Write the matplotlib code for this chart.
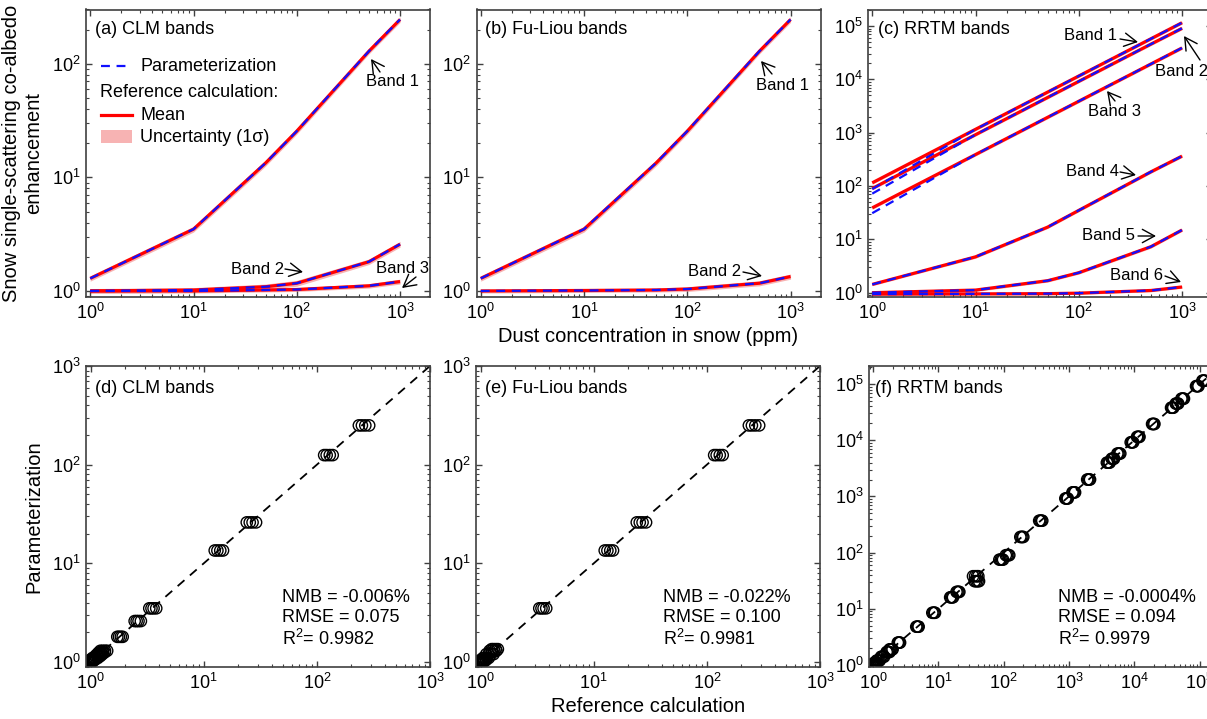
import numpy as np
import matplotlib
matplotlib.use("Agg")
import matplotlib.pyplot as plt
from matplotlib.ticker import LogLocator, NullFormatter

plt.rcParams['font.family'] = ['Liberation Sans', 'DejaVu Sans']
plt.rcParams['mathtext.fontset'] = 'custom'
plt.rcParams['mathtext.rm'] = 'Liberation Sans'
plt.rcParams['mathtext.it'] = 'Liberation Sans:italic'
plt.rcParams['mathtext.bf'] = 'Liberation Sans:bold'

# ---------------- data: top row (enhancement vs dust concentration) ----------------
conc = [1, 10, 50, 100, 500, 1000]

clm_ref = [[1.29, 3.5, 13.4, 25.5, 129, 245],
           [1.0, 1.02, 1.09, 1.17, 1.81, 2.58],
           [1.0, 1.0, 1.02, 1.03, 1.11, 1.21]]
clm_par = [[1.29, 3.5, 13.4, 25.5, 129, 245],
           [1.0, 1.02, 1.09, 1.17, 1.81, 2.58],
           [1.0, 1.0, 1.02, 1.03, 1.11, 1.21]]
clm_sig = [[0.07, 0.2, 0.8, 1.5, 7.0, 14.0],
           [0.05, 0.05, 0.06, 0.07, 0.1, 0.15],
           [0.04, 0.04, 0.04, 0.04, 0.05, 0.06]]

fl_ref = [[1.29, 3.5, 13.4, 25.5, 129, 245],
          [1.0, 1.01, 1.02, 1.04, 1.17, 1.34]]
fl_par = [[1.29, 3.5, 13.4, 25.5, 129, 245],
          [1.0, 1.01, 1.02, 1.04, 1.17, 1.34]]
fl_sig = [[0.07, 0.2, 0.8, 1.5, 7.0, 14.0],
          [0.04, 0.04, 0.04, 0.05, 0.06, 0.07]]

rrtm_ref = [[115, 1160, 5800, 11600, 58000, 116000],
            [90, 920, 4600, 9200, 46000, 91000],
            [39, 390, 1950, 3900, 19500, 39000],
            [1.43, 4.7, 17, 35, 185, 365],
            [1.0, 1.12, 1.68, 2.37, 7.3, 15.0],
            [0.94, 0.95, 0.96, 0.98, 1.1, 1.28]]
rrtm_par = [[88, 1160, 5800, 11600, 58000, 116000],
            [72, 920, 4600, 9200, 46000, 91000],
            [31, 390, 1950, 3900, 19500, 39000],
            [1.43, 4.7, 17, 35, 185, 365],
            [1.0, 1.12, 1.68, 2.37, 7.3, 15.0],
            [0.94, 0.95, 0.96, 0.98, 1.1, 1.28]]
rrtm_sig = [[7, 70, 350, 700, 3500, 7000],
            [5.5, 55, 280, 550, 2800, 5500],
            [2.4, 24, 120, 240, 1200, 2400],
            [0.08, 0.28, 1.0, 2.1, 11, 22],
            [0.06, 0.07, 0.1, 0.14, 0.45, 0.9],
            [0.05, 0.05, 0.05, 0.05, 0.06, 0.07]]

# ---------------- data: bottom row (parameterization vs reference) ----------------
d_par = [1.0, 1.03, 1.06, 1.1, 1.15, 1.2, 1.25, 1.3, 1.8, 2.6, 3.5, 13.5, 26, 125, 250]
d_ref = [[0.95, 0.98, 1.0, 1.03],
         [0.98, 1.0, 1.03, 1.06],
         [1.0, 1.04, 1.07, 1.1],
         [1.04, 1.08, 1.12, 1.16],
         [1.1, 1.14, 1.18, 1.22],
         [1.14, 1.18, 1.22, 1.27],
         [1.18, 1.23, 1.28, 1.33],
         [1.22, 1.28, 1.34, 1.4],
         [1.72, 1.78, 1.85, 1.92],
         [2.45, 2.55, 2.65, 2.78],
         [3.3, 3.45, 3.6, 3.8],
         [12.5, 13.2, 14.0, 14.8],
         [24, 25.5, 27, 29],
         [116, 122, 130, 138],
         [235, 250, 268, 290]]

e_par = [1.0, 1.02, 1.05, 1.1, 1.2, 1.3, 1.35, 3.5, 13.5, 26, 125, 250]
e_ref = [[0.95, 0.98, 1.01, 1.05],
         [0.97, 1.0, 1.04, 1.08],
         [1.0, 1.04, 1.08, 1.12],
         [1.05, 1.1, 1.14, 1.18],
         [1.12, 1.18, 1.24, 1.3],
         [1.2, 1.26, 1.32, 1.38],
         [1.25, 1.3, 1.36, 1.42],
         [3.3, 3.45, 3.6, 3.8],
         [12.5, 13.2, 14.0, 14.8],
         [24, 25.5, 27, 29],
         [116, 122, 130, 138],
         [235, 250, 268, 290]]

f_par = [0.95, 1.0, 1.05, 1.1, 1.2, 1.4, 1.7, 1.9, 2.5, 4.8, 8.5, 16, 20, 31, 38,
         75, 90, 190, 370, 920, 1180, 2000, 4000, 4700, 5800, 9200, 11500, 19500,
         38000, 45000, 55000, 92000, 115000]
f_ref = [[0.93, 0.97, 1.0, 1.03],
         [0.97, 1.0, 1.03, 1.06],
         [1.0, 1.04, 1.07, 1.1],
         [1.05, 1.09, 1.13, 1.16],
         [1.14, 1.18, 1.22, 1.27],
         [1.33, 1.38, 1.43, 1.48],
         [1.62, 1.68, 1.74, 1.8],
         [1.8, 1.87, 1.94, 2.0],
         [2.4, 2.47, 2.54, 2.6],
         [4.6, 4.75, 4.9, 5.0],
         [8.1, 8.4, 8.7, 8.9],
         [15.2, 15.7, 16.3, 16.8],
         [19, 19.7, 20.4, 21],
         [36, 38, 40, 42],
         [34, 36.5, 39, 41],
         [86, 90, 94, 98],
         [108, 113, 118, 122],
         [180, 187, 194, 200],
         [350, 363, 377, 390],
         [880, 905, 935, 960],
         [1130, 1160, 1200, 1240],
         [1900, 1970, 2040, 2100],
         [3800, 3930, 4070, 4200],
         [4500, 4630, 4770, 4900],
         [5500, 5700, 5900, 6100],
         [8800, 9070, 9330, 9600],
         [11000, 11300, 11700, 12000],
         [18700, 19200, 19800, 20300],
         [36500, 37500, 38500, 39500],
         [43000, 44300, 45700, 47000],
         [52500, 54200, 55800, 57500],
         [88000, 90700, 93300, 96000],
         [110000, 113000, 117000, 120000]]

stats = {"d": ["NMB = -0.006%", "RMSE = 0.075", "R$^2$= 0.9982"],
         "e": ["NMB = -0.022%", "RMSE = 0.100", "R$^2$= 0.9981"],
         "f": ["NMB = -0.0004%", "RMSE = 0.094", "R$^2$= 0.9979"]}

RED = "#ff0000"
BLUE = "#1010ff"
PINK = "#f7b3b3"
SPINE = "#404040"

W, H = 1207, 719
fig = plt.figure(figsize=(W / 100, H / 100), dpi=100)


def box(left, top, right, bottom):
    # pixel box -> figure fraction
    return [left / W, 1 - bottom / H, (right - left) / W, (bottom - top) / H]


def style(ax):
    ax.set_xscale("log")
    ax.set_yscale("log")
    for axis in (ax.xaxis, ax.yaxis):
        axis.set_minor_locator(LogLocator(base=10, subs=np.arange(2, 10), numticks=100))
        axis.set_minor_formatter(NullFormatter())
    ax.tick_params(which="both", direction="in", top=True, right=True, colors=SPINE,
                   labelcolor="black", labelsize=13)
    ax.tick_params(which="major", length=4.5, width=1.0, pad=4)
    ax.tick_params(which="minor", length=2.5, width=0.8)
    for s in ax.spines.values():
        s.set_color(SPINE)
        s.set_linewidth(1.2)


ax_a = fig.add_axes(box(86, 9.5, 430, 297))
ax_b = fig.add_axes(box(476.5, 9.5, 820.5, 297))
ax_c = fig.add_axes(box(868, 9.5, 1212, 297))
ax_d = fig.add_axes(box(86, 366, 430, 667))
ax_e = fig.add_axes(box(476, 366, 820, 667))
ax_f = fig.add_axes(box(869, 366, 1213, 667))


def band_lines(ax, ref, par, sig):
    for r, p, s in zip(ref, par, sig):
        r = np.array(r)
        s = np.array(s)
        ax.fill_between(conc, r - s, r + s, color=PINK, lw=0, zorder=1)
        ax.plot(conc, r, color=RED, lw=2.3, solid_capstyle="butt", zorder=2)
        ax.plot(conc, p, color=BLUE, lw=1.6, dashes=(4, 3), zorder=3)


for ax in (ax_a, ax_b, ax_c):
    style(ax)

band_lines(ax_a, clm_ref, clm_par, clm_sig)
band_lines(ax_b, fl_ref, fl_par, fl_sig)
band_lines(ax_c, rrtm_ref, rrtm_par, rrtm_sig)

for ax in (ax_a, ax_b, ax_c):
    ax.set_xlim(0.91, 1950)
    ax.set_xticks([1, 10, 100, 1000])
ax_a.set_ylim(0.885, 300)
ax_b.set_ylim(0.885, 300)
ax_c.set_ylim(0.83, 2.05e5)
ax_a.set_yticks([1, 10, 100])
ax_b.set_yticks([1, 10, 100])
ax_c.set_yticks([1, 10, 100, 1e3, 1e4, 1e5])

ax_a.text(0.025, 0.93, "(a) CLM bands", transform=ax_a.transAxes, fontsize=13, va="center")
ax_b.text(0.025, 0.93, "(b) Fu-Liou bands", transform=ax_b.transAxes, fontsize=13, va="center")
ax_c.text(0.029, 0.93, "(c) RRTM bands", transform=ax_c.transAxes, fontsize=13, va="center")

ax_a.set_ylabel("Snow single-scattering co-albedo\nenhancement", fontsize=14.5,
                linespacing=1.25, labelpad=6)
ax_b.set_xlabel("Dust concentration in snow (ppm)", fontsize=14.5, labelpad=3)

# hand-made legend in panel (a)
ax_a.plot([0.044, 0.134], [0.803, 0.803], transform=ax_a.transAxes, color=BLUE,
          lw=1.6, dashes=(4, 3))
ax_a.text(0.157, 0.803, "Parameterization", transform=ax_a.transAxes, fontsize=13, va="center")
ax_a.text(0.040, 0.713, "Reference calculation:", transform=ax_a.transAxes, fontsize=13,
          va="center")
ax_a.plot([0.044, 0.134], [0.633, 0.633], transform=ax_a.transAxes, color=RED, lw=2.3)
ax_a.text(0.157, 0.633, "Mean", transform=ax_a.transAxes, fontsize=13, va="center")
ax_a.add_patch(plt.Rectangle((0.044, 0.536), 0.09, 0.045, transform=ax_a.transAxes,
                             color=PINK, lw=0))
ax_a.text(0.157, 0.556, "Uncertainty (1σ)", transform=ax_a.transAxes, fontsize=13,
          va="center")

# band annotations, positions in figure pixels from the top-left corner
notes = [
    ("Band 1", (392, 82), (380, 72), (371, 59)),
    ("Band 2", (258, 269), (285, 269), (303, 272)),
    ("Band 3", (403, 268), (416, 277), (402, 288)),
    ("Band 1", (782, 86), (772, 74), (761, 61)),
    ("Band 2", (715, 271), (743, 272), (762, 276)),
    ("Band 1", (1090, 36), (1120, 39), (1138, 42)),
    ("Band 2", (1182, 72), (1200, 60), (1184, 36)),
    ("Band 3", (1115, 112), (1115, 101), (1107, 91)),
    ("Band 4", (1092, 171), (1120, 172), (1136, 175)),
    ("Band 5", (1109, 236), (1138, 236), (1156, 236)),
    ("Band 6", (1137, 275), (1165, 276), (1181, 282)),
]
for label, tpos, tail, head in notes:
    fig.text(tpos[0] / W, 1 - tpos[1] / H, label, fontsize=12, ha="center", va="center")
    fig.add_artist(matplotlib.patches.FancyArrowPatch(
        posA=(tail[0] / W, 1 - tail[1] / H), posB=(head[0] / W, 1 - head[1] / H),
        transform=fig.transFigure, arrowstyle="->,head_length=0.55,head_width=0.3",
        mutation_scale=16, shrinkA=0, shrinkB=0, color="black", lw=1.0))

# ---------------- bottom row ----------------
for ax in (ax_d, ax_e, ax_f):
    style(ax)


def scatter_panel(ax, par, ref, lim_hi):
    xs = np.concatenate([np.array(r) for r in ref])
    ys = np.concatenate([[p] * len(r) for p, r in zip(par, ref)])
    ax.plot([0.8, lim_hi], [0.8, lim_hi], color="black", lw=1.3, dashes=(5, 4), zorder=1)
    ax.scatter(xs, ys, s=66, facecolors="none", edgecolors="black", linewidths=1.0, zorder=2)


scatter_panel(ax_d, d_par, d_ref, 1000)
scatter_panel(ax_e, e_par, e_ref, 1000)
scatter_panel(ax_f, f_par, f_ref, 2.1e5)

for ax in (ax_d, ax_e):
    ax.set_xlim(0.91, 1000)
    ax.set_ylim(0.89, 1000)
    ax.set_xticks([1, 10, 100, 1000])
    ax.set_yticks([1, 10, 100, 1000])
ax_f.set_xlim(0.87, 1.6e5)
ax_f.set_ylim(0.92, 2.1e5)
ax_f.set_xticks([1, 10, 100, 1e3, 1e4, 1e5])
ax_f.set_yticks([1, 10, 100, 1e3, 1e4, 1e5])

ax_d.text(0.026, 0.925, "(d) CLM bands", transform=ax_d.transAxes, fontsize=13, va="center")
ax_e.text(0.026, 0.925, "(e) Fu-Liou bands", transform=ax_e.transAxes, fontsize=13, va="center")
ax_f.text(0.017, 0.925, "(f) RRTM bands", transform=ax_f.transAxes, fontsize=13, va="center")

for key, x0 in (("d", 282), ("e", 663), ("f", 1058)):
    for line, y in zip(stats[key], (597, 618, 639)):
        fig.text(x0 / W, 1 - y / H, line, fontsize=13, va="center", ha="left")

ax_d.set_ylabel("Parameterization", fontsize=14.5, labelpad=6)
ax_e.set_xlabel("Reference calculation", fontsize=14.5, labelpad=3)

fig.savefig("out.png", dpi=100)
